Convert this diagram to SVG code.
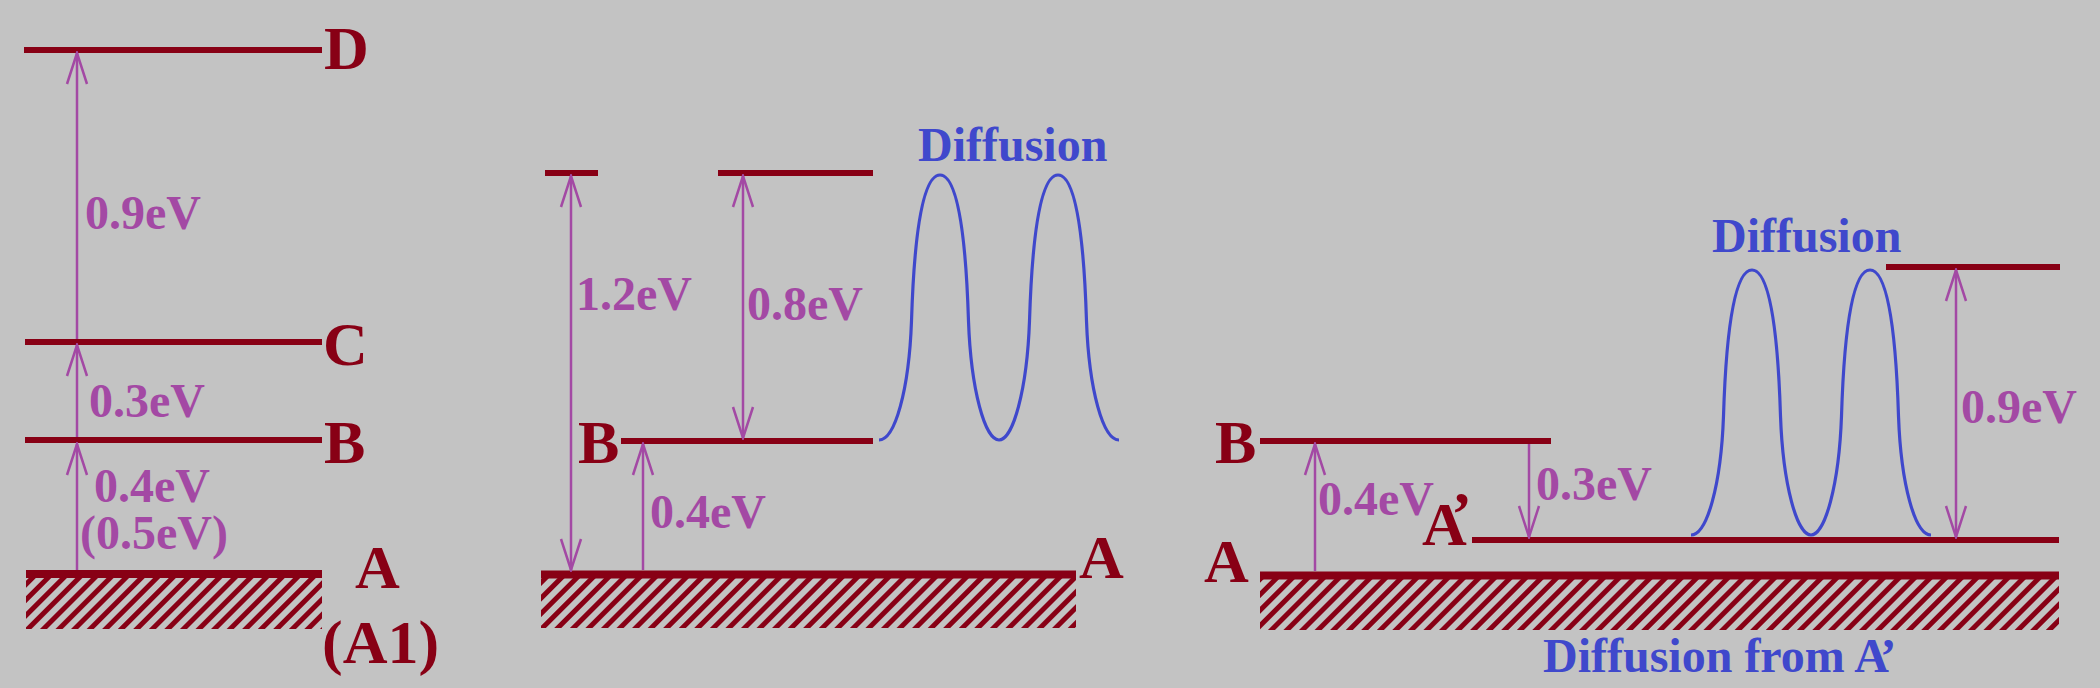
<svg xmlns="http://www.w3.org/2000/svg" width="2100" height="688" viewBox="0 0 2100 688">
<defs>
<style>
.lvl{stroke:#880015;stroke-width:6;fill:none}
.gnd{stroke:#880015;stroke-width:8;fill:none}
.lab{font-family:"Liberation Serif","Times New Roman",serif;font-weight:bold;font-size:62px;fill:#880015}
.ev{font-family:"Liberation Serif","Times New Roman",serif;font-weight:bold;font-size:48px;fill:#A349A4}
.dif{font-family:"Liberation Serif","Times New Roman",serif;font-weight:bold;font-size:48px;fill:#3F48CC}
.arr{stroke:#A349A4;stroke-width:2.5;fill:none}
</style>
<marker id="ah" markerUnits="userSpaceOnUse" viewBox="-34 -12 36 24" refX="0" refY="0" markerWidth="36" markerHeight="24" orient="auto-start-reverse">
<path d="M-31,-10 L0,0 L-31,10" fill="none" stroke="#A349A4" stroke-width="2.5"/>
</marker>
<pattern id="hatch" patternUnits="userSpaceOnUse" width="11" height="11" patternTransform="rotate(45)">
<rect width="5" height="11" fill="#880015"/>
</pattern>
<path id="wave" fill="none" stroke="#3F48CC" stroke-width="3.2" stroke-linejoin="round" d="M-61,0 C-45,0 -31,-50 -28.5,-119 C-25.5,-215 -16,-265 0,-265 C16,-265 25.5,-215 28.5,-119 C31,-50 45,0 59,0 C73,0 87,-50 89.5,-119 C92.5,-215 102,-265 118,-265 C134,-265 143.5,-215 146.5,-119 C149,-50 163,0 179,0"/>
</defs>
<rect width="2100" height="688" fill="#C3C3C3"/>

<g id="panel1">
<g id="p1-ground">
<rect x="26" y="578" width="296" height="51" fill="url(#hatch)"/>
<line class="gnd" x1="26" y1="574" x2="322" y2="574"/>
<text class="lab" x="355" y="588">A</text>
<text class="lab" x="322" y="663">(A1)</text>
</g>
<g id="p1-B"><line class="lvl" x1="25" y1="440" x2="322" y2="440"/><text class="lab" x="324" y="463">B</text></g>
<g id="p1-C"><line class="lvl" x1="25" y1="342" x2="322" y2="342"/><text class="lab" x="323" y="365">C</text></g>
<g id="p1-D"><line class="lvl" x1="24" y1="50" x2="322" y2="50"/><text class="lab" x="324" y="69">D</text></g>
</g>

<g id="panel2">
<g id="p2-ground">
<rect x="541" y="578" width="535" height="50" fill="url(#hatch)"/>
<line class="gnd" x1="541" y1="574.5" x2="1076" y2="574.5"/>
<text class="lab" x="1079" y="578">A</text>
</g>
<g id="p2-B"><line class="lvl" x1="621" y1="441" x2="873" y2="441"/><text class="lab" x="578" y="463">B</text></g>
<g id="p2-top1"><line class="lvl" x1="545" y1="173" x2="598" y2="173"/></g>
<g id="p2-top2"><line class="lvl" x1="718" y1="173" x2="873" y2="173"/></g>
<g id="p2-diffusion">
<use href="#wave" x="940" y="440"/>
<text class="dif" x="918" y="161">Diffusion</text>
</g>
</g>

<g id="panel3">
<g id="p3-ground">
<rect x="1260" y="579" width="799" height="51" fill="url(#hatch)"/>
<line class="gnd" x1="1260" y1="575.5" x2="2059" y2="575.5"/>
<text class="lab" x="1204" y="582">A</text>
<text class="dif" x="1543" y="672">Diffusion from A<tspan dx="-5">’</tspan></text>
</g>
<g id="p3-B"><line class="lvl" x1="1260" y1="441" x2="1551" y2="441"/><text class="lab" x="1215" y="463">B</text></g>
<g id="p3-Aprime"><line class="lvl" x1="1472" y1="540" x2="2059" y2="540"/><text class="lab" x="1422" y="545">A<tspan dx="-11" dy="-11">’</tspan></text></g>
<g id="p3-top"><line class="lvl" x1="1886" y1="267" x2="2060" y2="267"/></g>
<g id="p3-diffusion">
<use href="#wave" x="1752" y="535"/>
<text class="dif" x="1712" y="252">Diffusion</text>
</g>
</g>

<g id="connectors">
<line class="arr" x1="77" y1="570" x2="77" y2="444" marker-end="url(#ah)"/>
<line class="arr" x1="77" y1="437" x2="77" y2="345" marker-end="url(#ah)"/>
<line class="arr" x1="77" y1="339" x2="77" y2="53" marker-end="url(#ah)"/>
<line class="arr" x1="571" y1="176" x2="571" y2="570" marker-start="url(#ah)" marker-end="url(#ah)"/>
<line class="arr" x1="743" y1="176" x2="743" y2="438" marker-start="url(#ah)" marker-end="url(#ah)"/>
<line class="arr" x1="643" y1="570" x2="643" y2="444" marker-end="url(#ah)"/>
<line class="arr" x1="1315" y1="571" x2="1315" y2="444" marker-end="url(#ah)"/>
<line class="arr" x1="1529" y1="444" x2="1529" y2="537" marker-end="url(#ah)"/>
<line class="arr" x1="1956" y1="270" x2="1956" y2="537" marker-start="url(#ah)" marker-end="url(#ah)"/>
</g>

<g id="labels">
<text class="ev" x="85" y="229">0.9eV</text>
<text class="ev" x="89" y="417">0.3eV</text>
<text class="ev" x="94" y="502">0.4eV</text>
<text class="ev" x="80" y="549">(0.5eV)</text>
<text class="ev" x="576" y="310">1.2eV</text>
<text class="ev" x="747" y="320">0.8eV</text>
<text class="ev" x="650" y="528">0.4eV</text>
<text class="ev" x="1318" y="515">0.4eV</text>
<text class="ev" x="1536" y="500">0.3eV</text>
<text class="ev" x="1961" y="423">0.9eV</text>
</g>
</svg>
